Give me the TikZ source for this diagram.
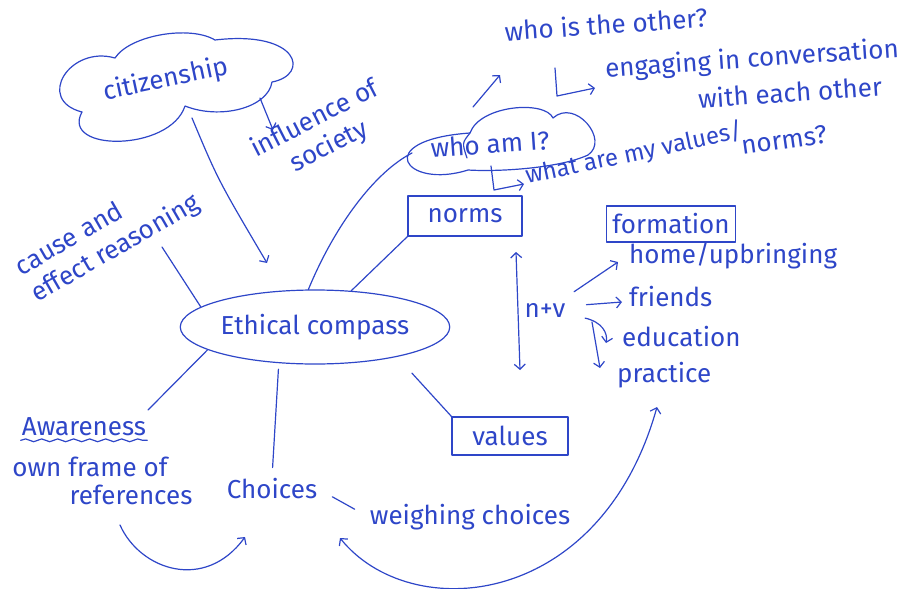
\documentclass[tikz,border=0pt]{standalone}
\usepackage{fontspec}
\setmainfont{Fira Sans}
\usetikzlibrary{arrows.meta,shapes.geometric,decorations.pathmorphing}
\definecolor{ink}{RGB}{46,70,200}
\tikzset{
  pen/.style={draw=ink,line width=1.2pt,line cap=round,line join=round},
  tip/.style={pen,-{Straight Barb[length=5pt,width=11pt]}},
  bothtips/.style={pen,{Straight Barb[length=5pt,width=11pt]}-{Straight Barb[length=5pt,width=11pt]}},
  hand/.style={text=ink,font=\fontsize{26}{28}\selectfont,inner sep=1pt,align=center},
  framed/.style={hand,pen,inner xsep=6pt,inner ysep=4pt}
}
\begin{document}
\begin{tikzpicture}[x=1pt,y=-1pt]
\useasboundingbox (0,0) rectangle (916,589);

%%%%% centre
\node[hand,pen,ellipse,minimum width=266pt,minimum height=74pt] (comp) at (315,327) {Ethical compass};

%%%%% top left: cloud drawn by hand
\draw[pen] (82,112) .. controls (60,152) and (170,152) .. (185,106)
  .. controls (220,120) and (268,108) .. (272,82)
  .. controls (310,75) and (300,30) .. (215,40)
  .. controls (190,25) and (130,35) .. (115,58)
  .. controls (70,45) and (35,100) .. cycle;
\node[hand,rotate=12] (cit) at (166,80) {citizenship};
\node[hand,rotate=27] (soc) at (322,133) {influence of\\[3pt]society};
\node[hand,rotate=30,align=left] (cause) at (108,236) {cause and\\[3pt]effect reasoning};

%%%%% top right
\draw[pen] (468,170) .. controls (405,190) and (370,140) .. (470,133)
  .. controls (480,105) and (545,100) .. (553,118)
  .. controls (575,98) and (610,140) .. (588,155)
  .. controls (560,168) and (500,172) .. cycle;
\draw[pen] (470,133) .. controls (462,143) .. (467,158);
\node[hand,rotate=4] (who) at (490,144) {who am I?};
\node[hand,rotate=4] (other) at (606,24) {who is the other?};
\node[hand,rotate=4] (eng) at (752,60) {engaging in conversation};
\node[hand,rotate=4] (each) at (790,92) {with each other};
\node[hand,rotate=12,font=\fontsize{24}{26}\selectfont] (vals) at (634,154) {what are my values/};
\node[hand,rotate=8] (nrm) at (784,140) {norms?};

\node[framed,minimum width=114pt,minimum height=40pt] (norms) at (465,216) {norms};
\node[framed,minimum width=122pt,minimum height=36pt] (form) at (671,224) {formation};
\node[hand] (nv) at (545,310) {n+v};
\node[hand,anchor=west] (home) at (628,256) {home/upbringing};
\node[hand,anchor=west] (friends) at (628,297) {friends};
\node[hand,anchor=west] (edu) at (621,337) {education};
\node[hand,anchor=west] (prac) at (616,375) {practice};

%%%%% bottom
\node[framed,minimum width=116pt,minimum height=38pt] (values) at (510,436) {values};
\node[hand] (aware) at (84,427) {Awareness};
\node[hand] (frame) at (90,467) {own frame of};
\node[hand] (refs) at (131,495) {references};
\node[hand] (choices) at (272,489) {Choices};
\node[hand] (weigh) at (470,517) {weighing choices};

%%%%% loose ends
\coordinate (citout) at (192,118);
\coordinate (citin) at (267,263);
\coordinate (socout) at (260,98);
\coordinate (socin) at (273,130);
\coordinate (causeout) at (162,247);
\coordinate (whoin) at (412,153);
\coordinate (whoout) at (473,107);
\coordinate (otherin) at (500,75);
\coordinate (engL) at (555,68);
\coordinate (valsL) at (491,166);
\coordinate (nvtop) at (516,252);
\coordinate (nvbot) at (520,370);
\coordinate (homein) at (618,262);
\coordinate (friendsin) at (622,302);
\coordinate (eduin) at (606,343);
\coordinate (nvout) at (592,322);
\coordinate (pracin) at (600,368);
\coordinate (awareout) at (148,410);
\coordinate (refsout) at (120,525);
\coordinate (choicesin) at (245,537);
\coordinate (choicesfoot) at (340,538);
\coordinate (pracfoot) at (657,407);

%%%%% connectors
\draw[tip] (citout) .. controls (218,180) .. (citin);
\draw[tip] (socout) -- (socin);
\draw[pen] (causeout) -- (comp.170);
\draw[pen] (comp.100) .. controls (335,225) and (375,172) .. (whoin);
\draw[pen] (comp.45) -- (norms.south west);
\draw[tip] (whoout) -- (otherin);
\draw[tip] (engL) -- ++(2,28) -- ++(38,-8);
\draw[tip] (valsL) -- ++(3,24) -- ++(30,-6);
\draw[bothtips] (nvtop) -- (nvbot);
\draw[tip,shorten <=18pt] (nv.30) -- (homein);
\draw[tip,shorten <=20pt] (nv.10) -- (friendsin);
\draw[tip,shorten <=19pt] (nv.-10) .. controls (602,322) and (608,333) .. (eduin);
\draw[tip] (nvout) -- (pracin);
\draw[pen] (comp.192) -- (awareout);
\draw[pen,decorate,decoration={snake,amplitude=1.4pt,segment length=16pt}] ([yshift=-3pt]aware.south west) -- ([yshift=-3pt]aware.south east);
\draw[pen,shorten <=6pt,shorten >=10pt] (comp.225) -- (choices.north);
\draw[pen,shorten <=22pt] (comp.-20) -- (values.north west);
\draw[pen,shorten <=16pt,shorten >=16pt] (choices.east) -- (weigh.west);
\draw[tip] (refsout) .. controls (140,570) and (205,592) .. (choicesin);
\draw[bothtips] (choicesfoot) .. controls (410,625) and (600,610) .. (pracfoot);
\end{tikzpicture}
\end{document}
